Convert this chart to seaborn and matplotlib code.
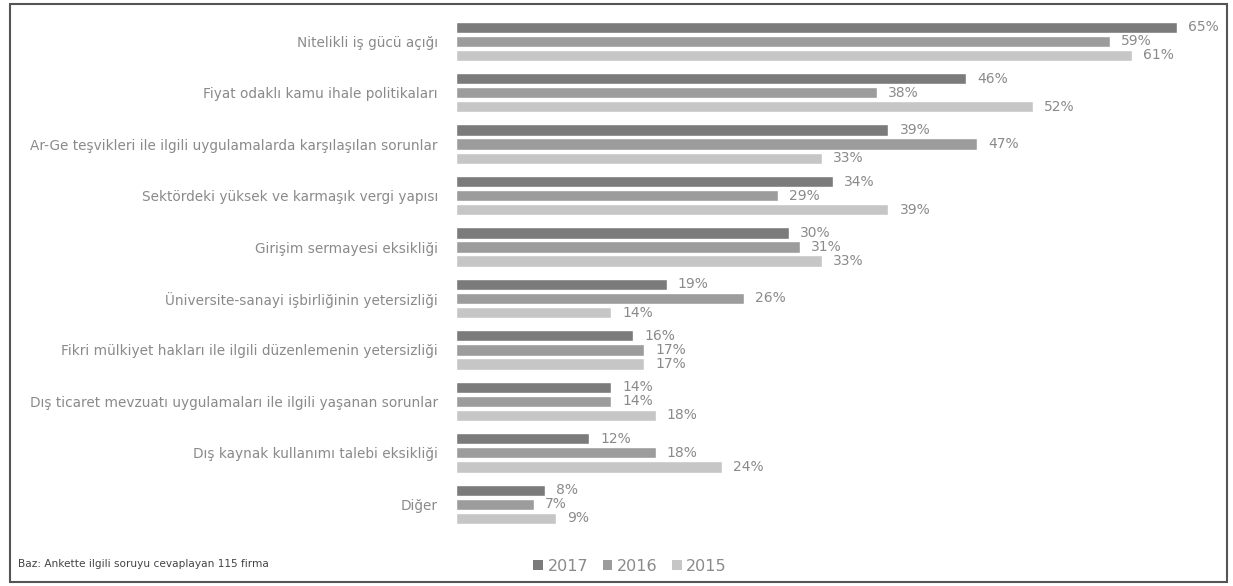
import matplotlib
matplotlib.use("Agg")
import matplotlib.pyplot as plt
import seaborn as sns
import pandas as pd
from matplotlib.patches import Rectangle, Patch

categories = [
    "Nitelikli iş gücü açığı",
    "Fiyat odaklı kamu ihale politikaları",
    "Ar-Ge teşvikleri ile ilgili uygulamalarda karşılaşılan sorunlar",
    "Sektördeki yüksek ve karmaşık vergi yapısı",
    "Girişim sermayesi eksikliği",
    "Üniversite-sanayi işbirliğinin yetersizliği",
    "Fikri mülkiyet hakları ile ilgili düzenlemenin yetersizliği",
    "Dış ticaret mevzuatı uygulamaları ile ilgili yaşanan sorunlar",
    "Dış kaynak kullanımı talebi eksikliği",
    "Diğer",
]
years = ["2017", "2016", "2015"]
v2017 = [65, 46, 39, 34, 30, 19, 16, 14, 12, 8]
v2016 = [59, 38, 47, 29, 31, 26, 17, 14, 18, 7]
v2015 = [61, 52, 33, 39, 33, 14, 17, 18, 24, 9]
colors = ["#7b7b7b", "#9c9c9c", "#c6c6c6"]
footnote = "Baz: Ankette ilgili soruyu cevaplayan 115 firma"

rows = []
for yr, vals in zip(years, [v2017, v2016, v2015]):
    for c, v in zip(categories, vals):
        rows.append({"category": c, "year": yr, "value": v})
df = pd.DataFrame(rows)

sns.set_theme(style="white")
plt.rcParams["font.family"] = ["DejaVu Sans"]

fig = plt.figure(figsize=(12.33, 5.86), dpi=100)
ax = fig.add_axes([456 / 1233, 1 - 530 / 586, 765 / 1233, 514.5 / 586])

sns.barplot(data=df, y="category", x="value", hue="year", hue_order=years,
            order=categories, palette=colors, orient="h", width=0.82, gap=0.2,
            ax=ax, legend=False, errorbar=None, saturation=1)

ax.set_xlim(0, 69)
ax.set_ylim(9.5, -0.5)
ax.set_xlabel("")
ax.set_ylabel("")
ax.set_xticks([])
for s in ax.spines.values():
    s.set_visible(False)
ax.tick_params(axis="y", length=0, pad=13, labelsize=9.8, labelcolor="#8a8a8a")

for cont, vals in zip(ax.containers, [v2017, v2016, v2015]):
    ax.bar_label(cont, labels=[f"{v}%" for v in vals], padding=8,
                 fontsize=10, color="#8a8a8a")

handles = [Patch(facecolor=c, edgecolor="none") for c in colors]
fig.legend(handles, years, loc="center", bbox_to_anchor=(0.511, 0.034), ncol=3,
           frameon=False, fontsize=11.5, labelcolor="#8a8a8a",
           handlelength=0.6, handleheight=0.6, handletextpad=0.3, columnspacing=0.9)

fig.text(18 / 1233, 1 - 564 / 586, footnote, fontsize=7.6, color="#444444",
         va="center", ha="left")

fig.patches.append(Rectangle((10 / 1233, 4 / 586), 1217 / 1233, 578 / 586,
                             transform=fig.transFigure, fill=False,
                             edgecolor="#555555", linewidth=1.5))

fig.savefig("out.png", dpi=100)
